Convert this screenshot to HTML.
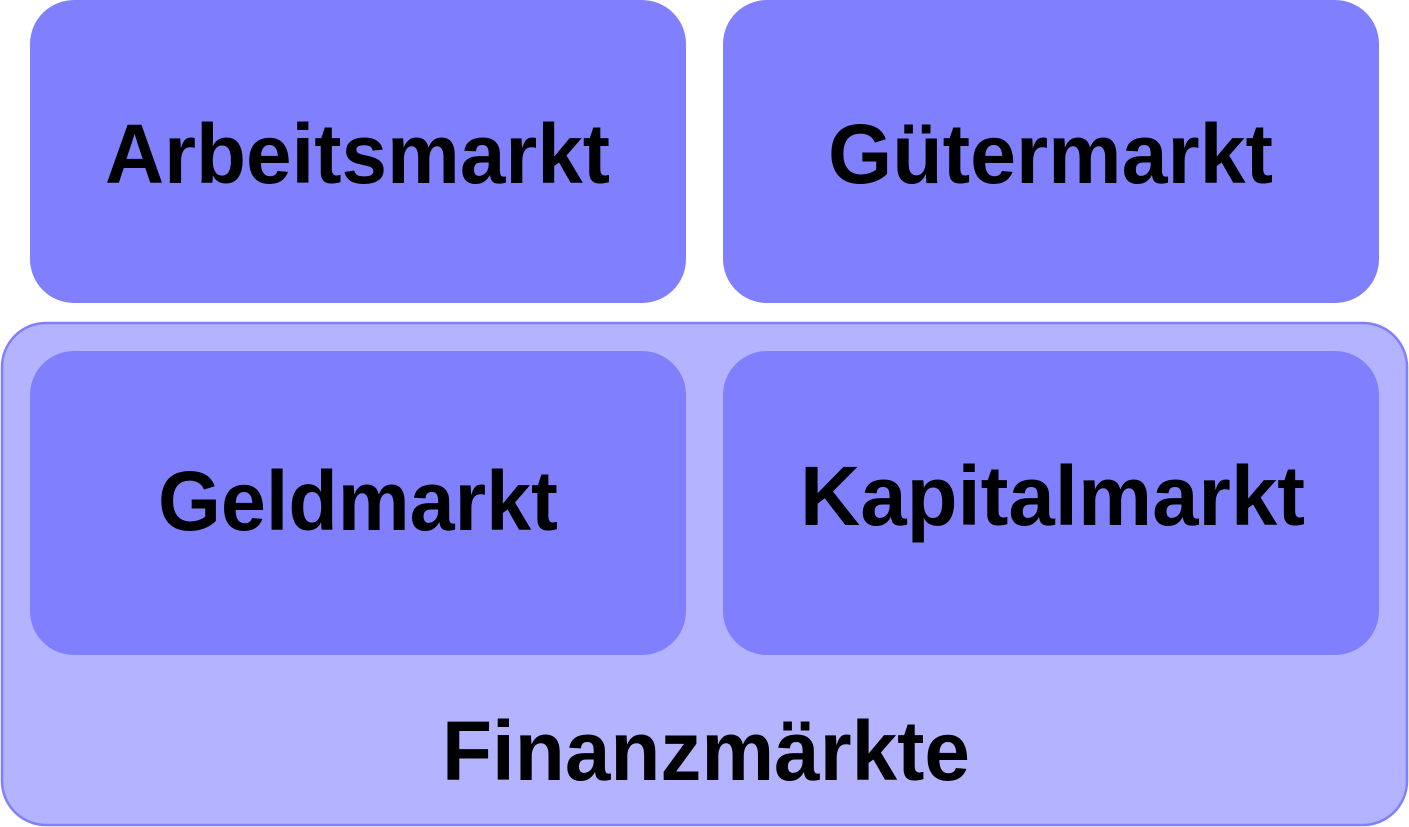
<!DOCTYPE html>
<html><head><meta charset="utf-8"><style>html,body{margin:0;padding:0;background:#fff}svg{display:block}</style></head>
<body>
<svg width="1409" height="827" viewBox="0 0 1409 827" xmlns="http://www.w3.org/2000/svg" font-family="'Liberation Sans', 'DejaVu Sans', sans-serif" font-weight="bold">
<rect x="30" y="0" width="656" height="303" rx="44" fill="#8080ff"/>
<rect x="723" y="0" width="656" height="303" rx="44" fill="#8080ff"/>
<rect x="2" y="323" width="1405" height="502" rx="44" fill="#b3b3ff" stroke="#8080ff" stroke-width="2.5"/>
<rect x="30" y="351" width="656" height="304" rx="44" fill="#8080ff"/>
<rect x="723" y="351" width="656" height="304" rx="44" fill="#8080ff"/>
<g font-size="84" fill="#000">
<text x="105" y="183" textLength="505" lengthAdjust="spacingAndGlyphs">Arbeitsmarkt</text>
<text x="828" y="183" textLength="445" lengthAdjust="spacingAndGlyphs">Gütermarkt</text>
<text x="158" y="530" textLength="400" lengthAdjust="spacingAndGlyphs">Geldmarkt</text>
<text x="800" y="525" textLength="505" lengthAdjust="spacingAndGlyphs">Kapitalmarkt</text>
<text x="442" y="780" textLength="528" lengthAdjust="spacingAndGlyphs">Finanzmärkte</text>
</g>
</svg>
</body></html>
